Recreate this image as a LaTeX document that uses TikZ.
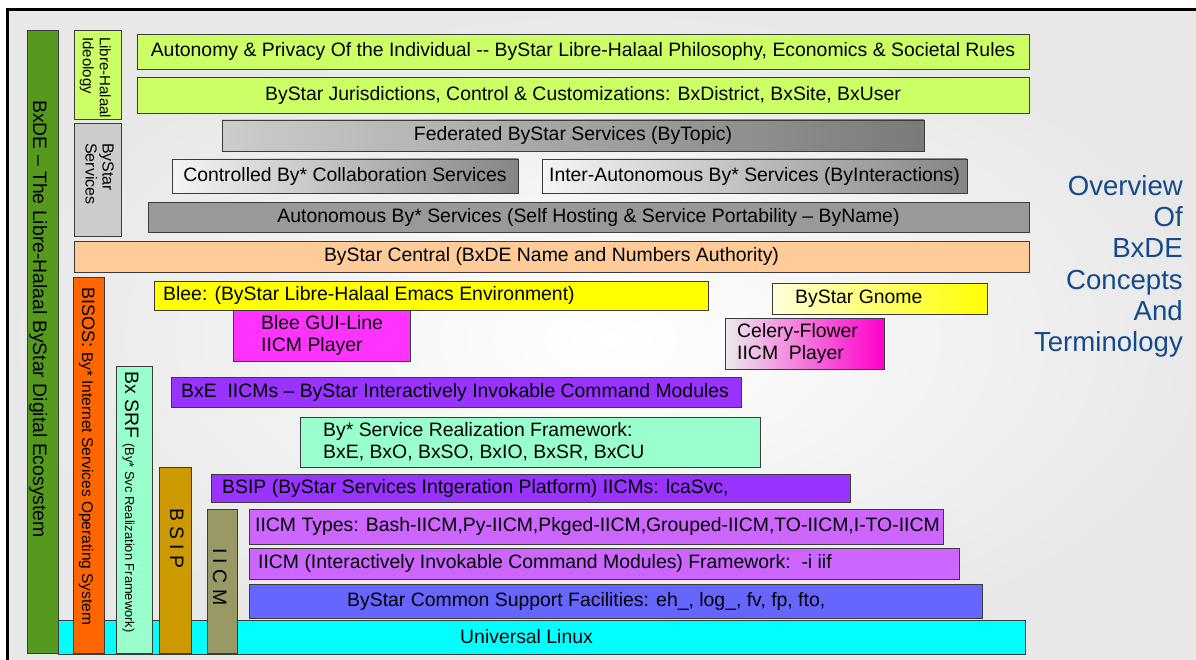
\documentclass[tikz,border=0pt]{standalone}
\usepackage{fontspec}
\setmainfont{Liberation Sans}
\definecolor{cGreen}{HTML}{55991E}
\definecolor{cLime}{HTML}{CCFF66}
\definecolor{cLGray}{HTML}{CCCCCC}
\definecolor{cMGray}{HTML}{999999}
\definecolor{cPeach}{HTML}{FFCC99}
\definecolor{cOrange}{HTML}{FF6600}
\definecolor{cYellow}{HTML}{FFFF00}
\definecolor{cMagenta}{HTML}{FF33FF}
\definecolor{cMint}{HTML}{99FFCC}
\definecolor{cPurple}{HTML}{9933FF}
\definecolor{cGold}{HTML}{CC9900}
\definecolor{cOlive}{HTML}{999966}
\definecolor{cLPurple}{HTML}{CC66FF}
\definecolor{cBlue}{HTML}{6666FF}
\definecolor{cCyan}{HTML}{00FFFF}
\definecolor{cTitle}{HTML}{154A8A}
\definecolor{cEdge}{HTML}{3C3C3C}
\definecolor{cPink}{HTML}{FF00CC}
\tikzset{
  layer/.style={draw=cEdge, line width=0.9pt, inner sep=0pt, outer sep=0pt,
    font=\fontsize{19.4}{22}\selectfont},
  ltext/.style={inner sep=0pt, align=left, font=\fontsize{19.4}{22}\selectfont},
  vtext/.style={rotate=-90, inner sep=0pt},
}
\newcommand\lyrbox[7]{%
  \pgfmathsetmacro\lyrW{#4-#2}%
  \pgfmathsetmacro\lyrH{#5-#3}%
  \node[layer,#6,minimum width=\lyrW pt,minimum height=\lyrH pt,anchor=north west] (#1) at (#2,#3) {#7};}
\newcommand\lyrboxl[8]{%
  \lyrbox{#1}{#2}{#3}{#4}{#5}{#6}{}%
  \node[ltext,anchor=west] (#1-t) at ([xshift=#7pt]#1.west) {#8};}
\begin{document}
\begin{tikzpicture}[x=1pt,y=-1pt]
\useasboundingbox (0,0) rectangle (1196,660);
\clip (0,0) rectangle (1196,660);
\fill[white] (0,0) rectangle (1196,660);
\shade[inner color=white,outer color=black!9] (7,10) rectangle (1215,670);
\draw[line width=3pt] (7,10) rectangle (1215,670);

% base layer
\lyrboxl{linux}{58}{620}{1025}{654}{fill=cCyan}{402}{Universal Linux}

% vertical bars
\lyrbox{bxde}{27}{30}{58}{653}{fill=cGreen}{}
\node[vtext,anchor=base west,font=\fontsize{19.4}{22}\selectfont] (bxde-t) at (33,100) {BxDE – The Libre-Halaal ByStar Digital Ecosystem};
\lyrbox{ideo}{74}{30}{121}{119}{fill=cLime}{}
\node[vtext,anchor=north west,align=left,font=\fontsize{15}{17}\selectfont] (ideo-t) at (111,37) {Libre-Halaal\\Ideology};
\lyrbox{svcs}{74}{123}{121}{236}{fill=cLGray}{}
\node[vtext,anchor=north west,align=left,font=\fontsize{16}{17}\selectfont] (svcs-t) at (114,143) {ByStar\\Services};
\lyrbox{bisos}{73}{277}{104}{653}{fill=cOrange}{}
\node[vtext,anchor=base west] (bisos-t) at (82,287) {{\fontsize{18}{20}\selectfont BISOS:\ }{\fontsize{15.5}{18}\selectfont By* Internet Services Operating System}};
\lyrbox{bxsrf}{116}{366}{152}{653}{fill=cMint}{}
\node[vtext,anchor=base west] (bxsrf-t) at (125,371) {{\fontsize{19.4}{22}\selectfont Bx SRF\ }{\fontsize{12.9}{15}\selectfont (By* Svc Realization Framework)}};
\lyrbox{bsipv}{159}{467}{191}{653}{fill=cGold}{}
\node[vtext,anchor=base west,font=\fontsize{19.4}{22}\selectfont] (bsipv-t) at (170,508) {B S I P};
\lyrbox{iicmv}{207}{509}{237}{653}{fill=cOlive}{}
\node[vtext,anchor=base west,font=\fontsize{19.4}{22}\selectfont] (iicmv-t) at (213,548) {I I C M};

% horizontal layers (top)
\lyrbox{autonomy}{137}{34}{1029}{69}{fill=cLime}{Autonomy \& Privacy Of the Individual -{}- ByStar Libre-Halaal Philosophy, Economics \& Societal Rules}
\lyrbox{jurisd}{137}{77}{1029}{113}{fill=cLime}{ByStar Jurisdictions, Control \& Customizations: BxDistrict, BxSite, BxUser}
\lyrbox{federated}{222}{120}{924}{151}{left color=black!20,right color=black!52}{Federated ByStar Services (ByTopic)}
\lyrbox{controlled}{172}{159}{518}{193}{left color=black!4,right color=black!48}{Controlled By* Collaboration Services}
\lyrbox{inter}{542}{159}{967}{193}{left color=black!4,right color=black!48}{Inter-Autonomous By* Services (ByInteractions)}
\lyrbox{autonomous}{148}{202}{1029}{232}{fill=cMGray}{Autonomous By* Services (Self Hosting \& Service Portability – ByName)}
\lyrbox{central}{74}{241}{1029}{272}{fill=cPeach}{ByStar Central (BxDE Name and Numbers Authority)}

% middle
\lyrboxl{blee}{154}{281}{708}{310}{fill=cYellow}{9}{Blee: (ByStar Libre-Halaal Emacs Environment)}
\lyrboxl{bleegui}{233}{310}{410}{361}{fill=cMagenta}{28}{Blee GUI-Line\\IICM Player}
\lyrboxl{gnome}{772}{283}{987}{314}{left color=yellow!15,right color=cYellow}{23}{ByStar Gnome}
\lyrboxl{celery}{725}{318}{884}{369}{left color=black!8,right color=cPink}{12}{Celery-Flower\\IICM\ \ Player}
\lyrboxl{bxe}{171}{377}{741}{407}{fill=cPurple}{10}{BxE\ \ IICMs – ByStar Interactively Invokable Command Modules}
\lyrboxl{srf}{300}{417}{760}{467}{fill=cMint}{23}{By* Service Realization Framework:\\BxE, BxO, BxSO, BxIO, BxSR, BxCU}
\lyrboxl{bsip}{211}{474}{850}{502}{fill=cPurple}{11}{BSIP (ByStar Services Intgeration Platform) IICMs: lcaSvc,}
\lyrboxl{types}{249}{509}{943}{544}{fill=cLPurple}{6}{IICM Types: Bash-IICM,Py-IICM,Pkged-IICM,Grouped-IICM,TO-IICM,I-TO-IICM}
\lyrboxl{iicmf}{249}{548}{959}{579}{fill=cLPurple}{9}{IICM (Interactively Invokable Command Modules) Framework:\ \ -i iif}
\lyrboxl{common}{249}{584}{982}{618}{fill=cBlue}{98}{ByStar Common Support Facilities: eh\_, log\_, fv, fp, fto,}

% title
\node[anchor=north east,align=right,inner sep=0pt,text=cTitle,font=\fontsize{27.6}{31.3}\selectfont] (title) at (1183,175) {Overview\\Of\\BxDE\\Concepts\\And\\Terminology};
\end{tikzpicture}
\end{document}
